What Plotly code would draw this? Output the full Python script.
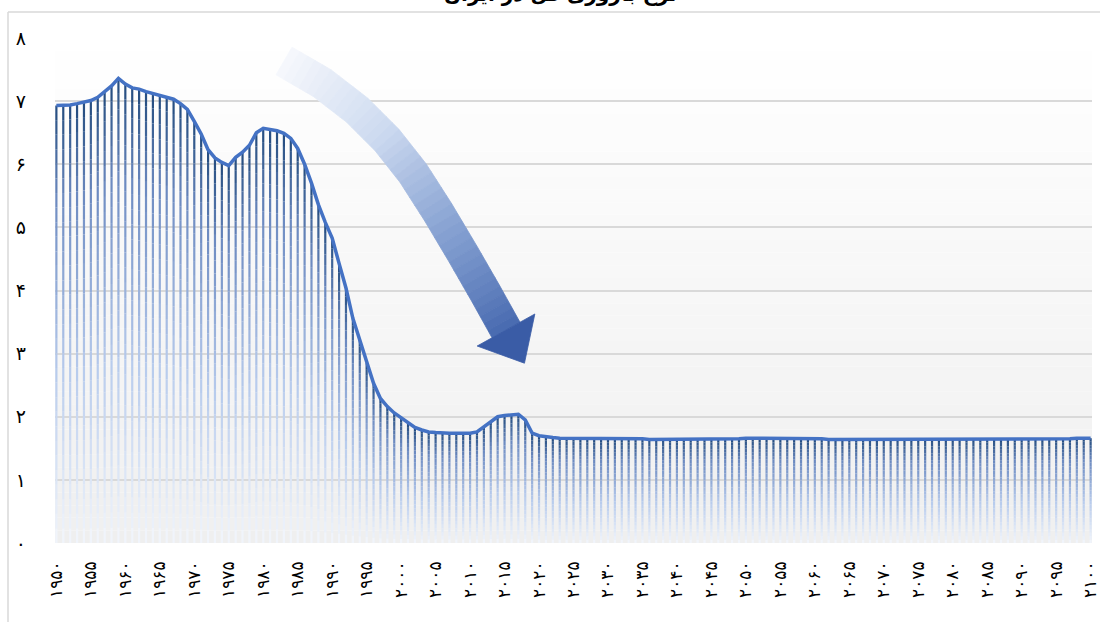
import numpy as np
import plotly.graph_objects as go

# ---------------- data ----------------
years = list(range(1950, 2101))
tfr = [
    6.93, 6.93, 6.94, 6.96, 6.98, 7.01, 7.06, 7.15, 7.24, 7.36,   # 1950-1959
    7.27, 7.21, 7.19, 7.15, 7.12, 7.10, 7.07, 7.03, 6.96, 6.87,   # 1960-1969
    6.68, 6.48, 6.23, 6.10, 6.03, 5.98, 6.11, 6.19, 6.30, 6.50,   # 1970-1979
    6.57, 6.55, 6.53, 6.49, 6.41, 6.25, 6.00, 5.70, 5.36, 5.08,   # 1980-1989
    4.83, 4.43, 4.04, 3.56, 3.22, 2.85, 2.53, 2.29, 2.16, 2.06,   # 1990-1999
    1.98, 1.90, 1.83, 1.79, 1.76, 1.75, 1.74, 1.74, 1.74, 1.74,   # 2000-2009
    1.74, 1.76, 1.84, 1.92, 2.00, 2.02, 2.03, 2.04, 1.95, 1.74,   # 2010-2019
    1.70, 1.68, 1.67, 1.66, 1.66, 1.66, 1.65, 1.65, 1.65, 1.65,   # 2020-2029
    1.65, 1.65, 1.65, 1.65, 1.65, 1.65, 1.64, 1.64, 1.64, 1.65,   # 2030-2039
    1.65, 1.65, 1.65, 1.65, 1.65, 1.65, 1.65, 1.65, 1.65, 1.65,   # 2040-2049
    1.66, 1.66, 1.65, 1.65, 1.65, 1.65, 1.65, 1.65, 1.65, 1.65,   # 2050-2059
    1.65, 1.65, 1.64, 1.64, 1.64, 1.65, 1.65, 1.65, 1.64, 1.64,   # 2060-2069
    1.64, 1.64, 1.64, 1.64, 1.64, 1.64, 1.64, 1.64, 1.64, 1.64,   # 2070-2079
    1.64, 1.64, 1.65, 1.64, 1.65, 1.65, 1.64, 1.64, 1.64, 1.65,   # 2080-2089
    1.65, 1.65, 1.64, 1.64, 1.64, 1.65, 1.65, 1.65, 1.66, 1.66,   # 2090-2099
    1.66,                                                         # 2100
]
x_tick_years = list(range(1950, 2101, 5))
y_tick_values = list(range(0, 9))
title_text = "نرخ باروری کل در ایران"


def fa_digits(n):
    return str(n).translate(str.maketrans("0123456789", "۰۱۲۳۴۵۶۷۸۹"))


# ---------------- geometry helpers (pixel -> paper) ----------------
W, H = 1100, 622
ML, MR, MT, MB = 55, 8, 38, 79
PW, PH = W - ML - MR, H - MT - MB


def px2x(px):
    return (px - ML) / PW


def py2y(py):
    return (H - MB - py) / PH


def lerp_color(stops, t):
    for (t0, c0), (t1, c1) in zip(stops[:-1], stops[1:]):
        if t0 <= t <= t1:
            f = 0 if t1 == t0 else (t - t0) / (t1 - t0)
            c = [c0[i] + (c1[i] - c0[i]) * f for i in range(3)]
            return "rgb(%d,%d,%d)" % tuple(int(round(v)) for v in c)
    c = stops[-1][1]
    return "rgb(%d,%d,%d)" % tuple(c)


fig = go.Figure()

# ---------------- gradient stems ----------------
stem_stops = [
    (0.0, (242, 246, 252)),
    (0.40, (182, 202, 236)),
    (0.78, (110, 140, 194)),
    (1.0, (35, 75, 126)),
]
NB = 30
for k in range(NB):
    xs, ys = [], []
    for yr, v in zip(years, tfr):
        xs += [yr, yr, None]
        ys += [v * k / NB, v * (k + 1) / NB, None]
    fig.add_trace(go.Scatter(
        x=xs, y=ys, mode="lines",
        line=dict(color=lerp_color(stem_stops, (k + 0.5) / NB), width=2.2),
        hoverinfo="skip", showlegend=False,
    ))

# ---------------- main line ----------------
fig.add_trace(go.Scatter(
    x=years, y=tfr, mode="lines",
    line=dict(color="rgb(68,114,196)", width=3.5),
    showlegend=False,
))

shapes = []

# plot-area background gradient
NBG = 40
for k in range(NBG):
    t = (k + 0.5) / NBG
    g = int(round(239 + (255 - 239) * t))
    shapes.append(dict(
        type="rect", xref="paper", yref="paper",
        x0=0, x1=1, y0=k / NBG, y1=(k + 1) / NBG,
        fillcolor="rgb(%d,%d,%d)" % (g, g, g), line=dict(width=0), layer="below",
    ))

# chart frame (left and top edges)
shapes.append(dict(type="line", xref="paper", yref="paper",
                   x0=px2x(8), x1=px2x(8), y0=py2y(12), y1=py2y(640),
                   line=dict(color="rgb(217,217,217)", width=1.5)))
shapes.append(dict(type="line", xref="paper", yref="paper",
                   x0=px2x(8), x1=px2x(1110), y0=py2y(12), y1=py2y(12),
                   line=dict(color="rgb(217,217,217)", width=1.5)))

# ---------------- curved gradient arrow ----------------
center = np.array([(284, 61), (322, 83), (357, 110), (387, 140), (413, 173),
                   (438, 212), (463, 254), (486, 294), (506, 330)], float)
dense = []
for a, b in zip(center[:-1], center[1:]):
    for f in np.linspace(0, 1, 5, endpoint=False):
        dense.append(a + (b - a) * f)
dense.append(center[-1])
dense = np.array(dense)
tang = np.gradient(dense, axis=0)
tang /= np.linalg.norm(tang, axis=1)[:, None]
norm = np.stack([-tang[:, 1], tang[:, 0]], axis=1)
half_w = 16
left = dense + norm * half_w
right = dense - norm * half_w
arrow_stops = [(0.0, (246, 248, 252)), (0.35, (205, 218, 240)),
               (0.7, (130, 158, 208)), (1.0, (72, 106, 176))]
n = len(dense)
for i in range(n - 1):
    pts = [left[i], left[i + 1], right[i + 1], right[i]]
    path = "M " + " L ".join("%f,%f" % (px2x(p[0]), py2y(p[1])) for p in pts) + " Z"
    col = lerp_color(arrow_stops, (i + 0.5) / (n - 1))
    shapes.append(dict(type="path", xref="paper", yref="paper", path=path,
                       fillcolor=col, line=dict(color=col, width=0.8), layer="above"))
end = dense[-1]
d = tang[-1]
nv = norm[-1]
hw, hl = 33, 38
corner1 = end + nv * hw
corner2 = end - nv * hw
tip = end + d * hl
head = [corner1, tip, corner2]
path = "M " + " L ".join("%f,%f" % (px2x(p[0]), py2y(p[1])) for p in head) + " Z"
shapes.append(dict(type="path", xref="paper", yref="paper", path=path,
                   fillcolor="rgb(58,92,166)", line=dict(color="rgb(58,92,166)", width=0.8),
                   layer="above"))

fig.update_layout(
    width=W, height=H,
    margin=dict(l=ML, r=MR, t=MT, b=MB, autoexpand=False),
    paper_bgcolor="white",
    plot_bgcolor="rgba(0,0,0,0)",
    font=dict(family="DejaVu Sans", color="black"),
    shapes=shapes,
    showlegend=False,
    xaxis=dict(
        range=[1949.8, 2100.2], showgrid=False, zeroline=False, showline=False,
        automargin=False, ticklabeloverflow="allow",
        tickmode="array", tickvals=x_tick_years,
        ticktext=[fa_digits(v) for v in x_tick_years],
        tickangle=-90, tickfont=dict(size=17, family="DejaVu Sans", color="black"),
        ticks="", ticklabelstandoff=14,
    ),
    yaxis=dict(
        range=[0, 8], showgrid=True, gridcolor="rgb(217,217,217)", gridwidth=1.5,
        zeroline=False, showline=False, automargin=False, ticklabeloverflow="allow",
        tickmode="array", tickvals=y_tick_values,
        ticktext=[fa_digits(v) for v in y_tick_values],
        tickfont=dict(size=19, family="DejaVu Sans", color="black"),
        ticks="", ticklabelstandoff=28,
    ),
    annotations=[dict(
        xref="paper", yref="paper", x=px2x(560), y=py2y(8),
        xanchor="center", yanchor="bottom", showarrow=False,
        text="<b>" + title_text + "</b>",
        font=dict(size=20, family="DejaVu Sans", color="black"),
    )],
)

fig.write_html(
    "out.html",
    config={"displayModeBar": False},
    post_script="document.body.style.margin='0px';document.body.style.overflow='hidden';",
)
